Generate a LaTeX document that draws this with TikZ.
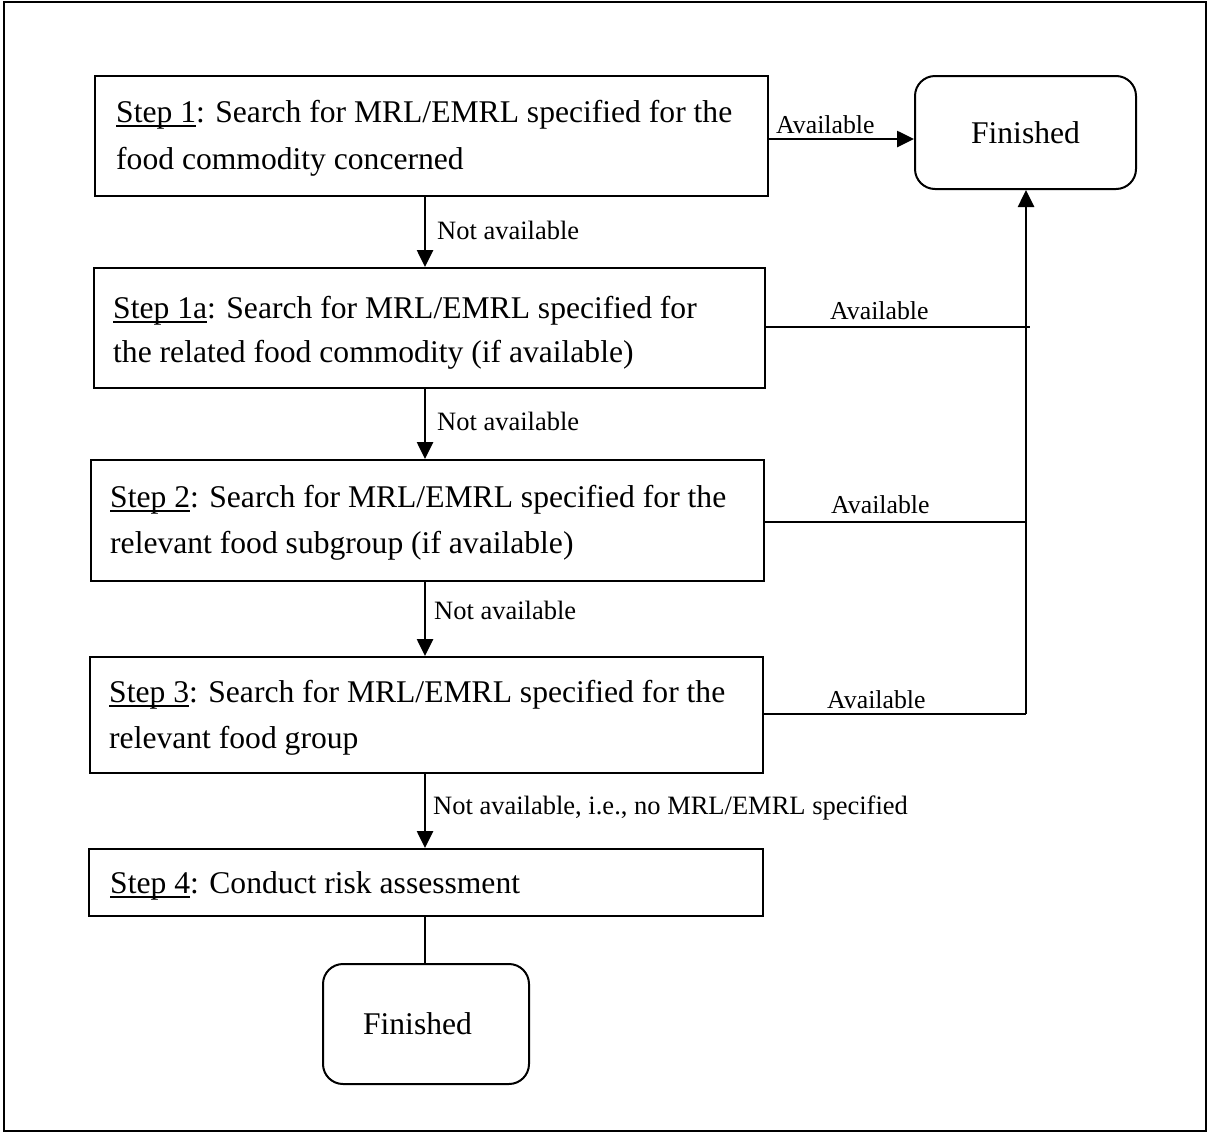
\documentclass[tikz,border=0pt]{standalone}
\usepackage{fontspec}
\setmainfont{Liberation Serif}
\usetikzlibrary{arrows.meta}
\newsavebox{\ulbox}
\newcommand{\stepul}[1]{\sbox{\ulbox}{#1}\rlap{\rule[-4.5pt]{\wd\ulbox}{1.8pt}}\usebox{\ulbox}}
\newcommand{\bigfont}{\fontsize{31.6}{46}\selectfont}
\newcommand{\lblfont}{\fontsize{26.5}{30}\selectfont}
\newcommand{\avfont}{\fontsize{25.8}{30}\selectfont}
\tikzset{
  stepbox/.style={draw, line width=2pt, rectangle, inner sep=0pt, anchor=north west},
  endbox/.style={draw, line width=2pt, rectangle, rounded corners=20pt, inner sep=0pt, anchor=north west, font=\bigfont},
  txt/.style={inner sep=0pt, anchor=base west, font=\bigfont},
  lbl/.style={inner sep=0pt, anchor=base west, font=\lblfont},
  avl/.style={inner sep=0pt, anchor=base west, font=\avfont},
  arr/.style={line width=2.6pt, -{Triangle[length=17pt,width=16pt]}},
  conn/.style={line width=2.4pt},
  frame/.style={line width=2.2pt}
}
\begin{document}
\begin{tikzpicture}[x=1pt,y=-1pt]
\useasboundingbox (0,0) rectangle (1207,1133);
\draw[frame] (4,2) rectangle (1206,1131);

% boxes
\node[stepbox, minimum width=673pt, minimum height=120pt] (b1) at (94,75) {};
\node[stepbox, minimum width=671.5pt, minimum height=120pt] (b1a) at (92.5,267) {};
\node[stepbox, minimum width=673pt, minimum height=121pt] (b2) at (90,459) {};
\node[stepbox, minimum width=673pt, minimum height=116pt] (b3) at (89,656) {};
\node[stepbox, minimum width=674pt, minimum height=67pt] (b4) at (88,848) {};
\node[endbox, minimum width=221pt, minimum height=113pt] (f1) at (914,75) {Finished};
\node[endbox, minimum width=206pt, minimum height=120pt] (f2) at (322,963) {Finished\hspace*{17pt}};

% box texts
\node[txt] (t1) at (116,122) {\fontsize{31.6}{47.5}\selectfont\begin{tabular}[t]{@{}l@{}}\stepul{Step 1}: Search for MRL/EMRL specified for the\\food commodity concerned\end{tabular}};
\node[txt] (t1a) at (113,318) {\fontsize{31.6}{44}\selectfont\begin{tabular}[t]{@{}l@{}}\stepul{Step 1a}: Search for MRL/EMRL specified for\\the related food commodity (if available)\end{tabular}};
\node[txt] (t2) at (110,507) {\fontsize{31.6}{46}\selectfont\begin{tabular}[t]{@{}l@{}}\stepul{Step 2}: Search for MRL/EMRL specified for the\\relevant food subgroup (if available)\end{tabular}};
\node[txt] (t3) at (109,702) {\fontsize{31.6}{46}\selectfont\begin{tabular}[t]{@{}l@{}}\stepul{Step 3}: Search for MRL/EMRL specified for the\\relevant food group\end{tabular}};
\node[txt] (t4) at (110,893) {\stepul{Step 4}: Conduct risk assessment};

% helper coordinates
\coordinate (ax) at (425,0);
\coordinate (ay) at (0,139);
\coordinate (vx) at (1026,714);
\coordinate (v1) at (1030,327);

% vertical "Not available" arrows
\draw[arr] (b1.south -| ax) -- (b1a.north -| ax);
\draw[arr] (b1a.south -| ax) -- (b2.north -| ax);
\draw[arr] (b2.south -| ax) -- (b3.north -| ax);
\draw[arr] (b3.south -| ax) -- (b4.north -| ax);
\draw[conn] (b4.south -| ax) -- (f2.north -| ax);

\node[lbl] (n1) at (437,239) {Not available};
\node[lbl] (n2) at (437,430) {Not available};
\node[lbl] (n3) at (434,619) {Not available};
\node[lbl] (n4) at (433,814) {Not available, i.e., no MRL/EMRL specified};

% "Available" connectors
\draw[arr] (b1.east |- ay) -- (f1.west |- ay);
\draw[conn] (b1a.east |- v1) -- (v1);
\draw[conn] (b2.east |- 0,522) -- (vx |- 0,522);
\draw[conn] (b3.east |- vx) -- (vx);
\draw[arr] (vx) -- (f1.south -| vx);

\node[avl] (a0) at (776,133) {Available};
\node[avl] (a1) at (830,319) {Available};
\node[avl] (a2) at (831,513) {Available};
\node[avl] (a3) at (827,708) {Available};
\end{tikzpicture}
\end{document}
